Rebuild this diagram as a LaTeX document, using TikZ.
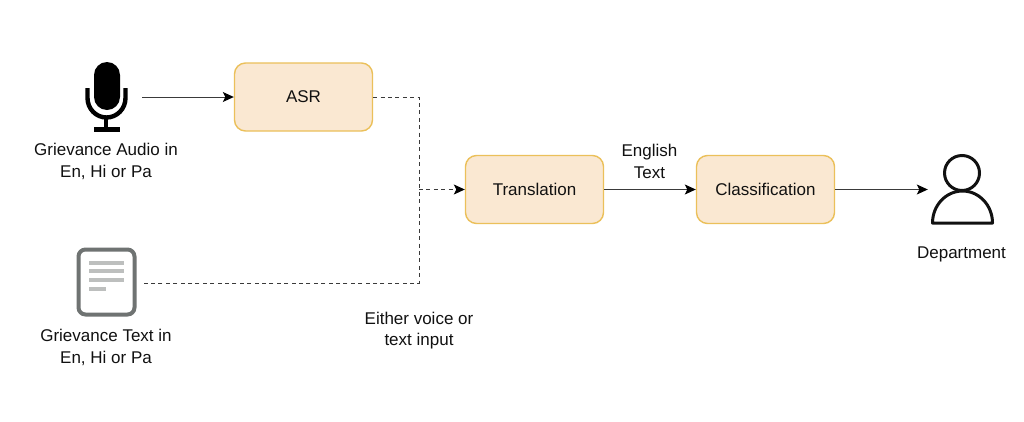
\documentclass[tikz,border=0pt]{standalone}
\usepackage{fontspec}
\setmainfont{Liberation Sans}
\usetikzlibrary{arrows.meta}
\definecolor{boxfill}{HTML}{FAE8D2}
\definecolor{boxline}{HTML}{EBC05A}
\definecolor{docline}{HTML}{6F7372}
\definecolor{docbar}{HTML}{BDBFBE}
\definecolor{ink}{HTML}{111111}
\definecolor{wire}{HTML}{3A3A3A}
\tikzset{
  procbox/.style={draw=boxline,fill=boxfill,line width=1.4pt,rounded corners=11pt,minimum width=138pt,minimum height=68pt,inner sep=0pt,text=ink,font=\fontsize{17}{21}\selectfont},
  lbl/.style={align=center,inner sep=0pt,text=ink,font=\fontsize{17}{21.5}\selectfont},
  anchorbox/.style={inner sep=0pt,minimum width=#1,minimum height=68pt},
  wireline/.style={draw=wire,line width=1pt,-{Stealth[length=11pt,width=10pt,inset=2.5pt,color=black]}},
  dashwire/.style={draw=wire,line width=0.9pt,dash pattern=on 4pt off 3.4pt},
}
\begin{document}
\begin{tikzpicture}[x=1pt,y=-1pt]
\useasboundingbox (0,0) rectangle (1024,421);
\fill[white] (0,0) rectangle (1024,421);
% boxes
\node[procbox] (asr) at (303.5,97) {ASR};
\node[procbox] (trans) at (534.5,189.5) {Translation};
\node[procbox] (cls) at (765.5,189.5) {Classification};
% icon anchors
\node[anchorbox=72pt] (mic) at (106,97) {};
\node[anchorbox=72pt] (doc) at (106,283) {};
\node[anchorbox=66pt] (person) at (961,189.5) {};
\coordinate (corner1) at (419,97);
\coordinate (corner2) at (419,283);
\coordinate (junction) at (419,189.5);
% microphone
\fill[black] (94,75) arc[start angle=180,end angle=360,radius=13] -- (120,97) arc[start angle=0,end angle=180,radius=13] -- cycle;
\draw[black,line width=4.4pt] (87.5,88) -- (87.5,98) arc[start angle=180,end angle=0,x radius=19,y radius=19.5] -- (125.5,88);
\draw[black,line width=4.4pt] (106,117) -- (106,129);
\fill[black] (94,127) rectangle (119.5,131.5);
% document
\draw[docline,line width=4pt,fill=white,rounded corners=7pt] (78.5,249.5) rectangle (134.5,314.5);
\foreach \yy/\xe in {262.5/124,271/124,279.5/124,288.5/106}{
  \fill[docbar] (89,\yy-2) rectangle (\xe,\yy+2);
}
% person
\draw[ink,line width=3pt] (962,173) circle[radius=17.5];
\draw[ink,line width=3pt,line join=round] (932.5,223) arc[start angle=180,end angle=360,x radius=30,y radius=32] -- cycle;
% labels
\node[lbl] (micl) at (106,161.5) {Grievance Audio in\\En, Hi or Pa};
\node[lbl] (docl) at (106,347.5) {Grievance Text in\\En, Hi or Pa};
\node[lbl] (engl) at (649.5,161.5) {English\\Text};
\node[lbl] (depl) at (961.5,254) {Department};
\node[lbl] (eith) at (419,330.5) {Either voice or\\text input};
% connectors
\draw[wireline] (142,97) -- (asr.west);
\draw[dashwire] (asr.east) -- (corner1) -- (corner2) -- (142,283);
\draw[dashwire,-{Stealth[length=11pt,width=10pt,inset=2.5pt,color=black]}] (junction) -- (trans.west);
\draw[wireline] (trans.east) -- (cls.west);
\draw[wireline] (cls.east) -- (person.west);
\end{tikzpicture}
\end{document}
